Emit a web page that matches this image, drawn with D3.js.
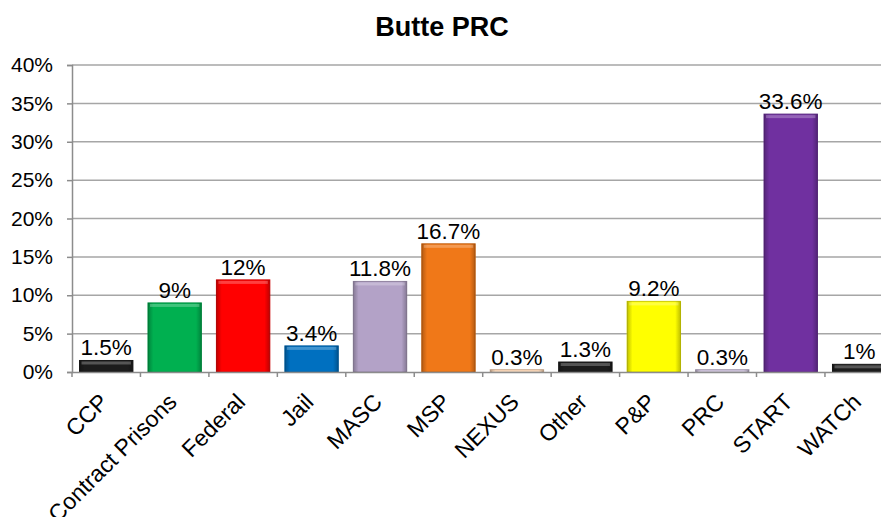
<!DOCTYPE html>
<html>
<head>
<meta charset="utf-8">
<script src="https://cdn.jsdelivr.net/npm/d3@7"></script>
<style>
  body { margin: 0; background: #fff; }
  svg { display: block; font-family: "Liberation Sans", Arial, sans-serif; }
</style>
</head>
<body>
<svg width="881" height="517"></svg>
<script>
const categories = ["CCP", "Contract Prisons", "Federal", "Jail", "MASC", "MSP", "NEXUS", "Other", "P&P", "PRC", "START", "WATCh"];
const values = [1.5, 9, 12, 3.4, 11.8, 16.7, 0.3, 1.3, 9.2, 0.3, 33.6, 1];
const labels = ["1.5%", "9%", "12%", "3.4%", "11.8%", "16.7%", "0.3%", "1.3%", "9.2%", "0.3%", "33.6%", "1%"];
const colors = ["#1c1c1c", "#00b050", "#ff0000", "#0070c0", "#b3a2c7", "#f07818", "#fcd5b4", "#1c1c1c", "#ffff00", "#ccc0da", "#7030a0", "#1c1c1c"];
const yTicks = [0, 5, 10, 15, 20, 25, 30, 35, 40];

const svg = d3.select("svg");
const width = +svg.attr("width");

const margin = { left: 72, top: 65, bottom: 372 };
const step = 68.45;

const x = d3.scaleBand()
  .domain(categories)
  .range([margin.left, margin.left + step * categories.length])
  .paddingInner(0.22)
  .paddingOuter(0.11);

const y = d3.scaleLinear().domain([0, 40]).range([margin.bottom, margin.top]);

// title
svg.append("text")
  .attr("x", 442)
  .attr("y", 36)
  .attr("text-anchor", "middle")
  .attr("font-weight", "bold")
  .attr("font-size", 27)
  .text("Butte PRC");

// gridlines
svg.append("g")
  .selectAll("line")
  .data(yTicks.slice(1))
  .join("line")
  .attr("x1", margin.left)
  .attr("x2", width)
  .attr("y1", d => y(d))
  .attr("y2", d => y(d))
  .attr("stroke", "#a6a6a6")
  .attr("stroke-width", 1.5);

// y axis
const yAxis = svg.append("g")
  .attr("transform", `translate(${margin.left},0)`)
  .call(d3.axisLeft(y).tickValues(yTicks).tickSize(5).tickPadding(14).tickFormat(d => d + "%"));
yAxis.select(".domain").attr("stroke", "#8c8c8c").attr("stroke-width", 1.5);
yAxis.selectAll(".tick line").attr("stroke", "#8c8c8c").attr("stroke-width", 1.5);
yAxis.selectAll(".tick text").attr("font-size", 21).attr("fill", "#000").attr("font-family", "Liberation Sans, Arial, sans-serif");

// bar gradient for bevel look
const defs = svg.append("defs");
const grad = defs.append("linearGradient").attr("id", "bevel").attr("x1", 0).attr("x2", 1).attr("y1", 0).attr("y2", 0);
grad.append("stop").attr("offset", "0%").attr("stop-color", "#000").attr("stop-opacity", 0.25);
grad.append("stop").attr("offset", "10%").attr("stop-color", "#000").attr("stop-opacity", 0);
grad.append("stop").attr("offset", "90%").attr("stop-color", "#000").attr("stop-opacity", 0);
grad.append("stop").attr("offset", "100%").attr("stop-color", "#000").attr("stop-opacity", 0.25);

const data = categories.map((c, i) => ({ c, v: values[i], label: labels[i], color: colors[i] }));

const bars = svg.append("g").selectAll("g").data(data).join("g");

bars.append("rect")
  .attr("x", d => x(d.c))
  .attr("y", d => y(d.v))
  .attr("width", x.bandwidth())
  .attr("height", d => y(0) - y(d.v))
  .attr("fill", d => d.color)
  .attr("stroke", d => d3.color(d.color).darker(0.6))
  .attr("stroke-width", 1);

bars.append("rect")
  .attr("x", d => x(d.c))
  .attr("y", d => y(d.v))
  .attr("width", x.bandwidth())
  .attr("height", d => y(0) - y(d.v))
  .attr("fill", "url(#bevel)");

bars.append("rect")
  .attr("x", d => x(d.c) + 2)
  .attr("y", d => y(d.v) + 1)
  .attr("width", x.bandwidth() - 4)
  .attr("height", d => Math.min(3, y(0) - y(d.v)))
  .attr("fill", "#fff")
  .attr("opacity", 0.25);

bars.append("text")
  .attr("x", d => x(d.c) + x.bandwidth() / 2)
  .attr("y", d => y(d.v) - 5)
  .attr("text-anchor", "middle")
  .attr("font-size", 22.5)
  .text(d => d.label);

// x axis
const xAxis = svg.append("g")
  .attr("transform", `translate(0,${margin.bottom})`)
  .call(d3.axisBottom(x).tickSize(0).tickFormat(""));
xAxis.select(".domain").attr("stroke", "#8c8c8c").attr("stroke-width", 1.5);

svg.append("g")
  .selectAll("line")
  .data(d3.range(categories.length + 1))
  .join("line")
  .attr("x1", i => margin.left + i * step)
  .attr("x2", i => margin.left + i * step)
  .attr("y1", margin.bottom)
  .attr("y2", margin.bottom + 5)
  .attr("stroke", "#8c8c8c")
  .attr("stroke-width", 1.5);

svg.append("g")
  .selectAll("text")
  .data(categories)
  .join("text")
  .attr("transform", d => `translate(${x(d) + x.bandwidth() / 2 - 8},${margin.bottom + 20}) rotate(-45)`)
  .attr("text-anchor", "end")
  .attr("dy", "0.7em")
  .attr("font-size", 23)
  .text(d => d);
</script>
</body>
</html>
